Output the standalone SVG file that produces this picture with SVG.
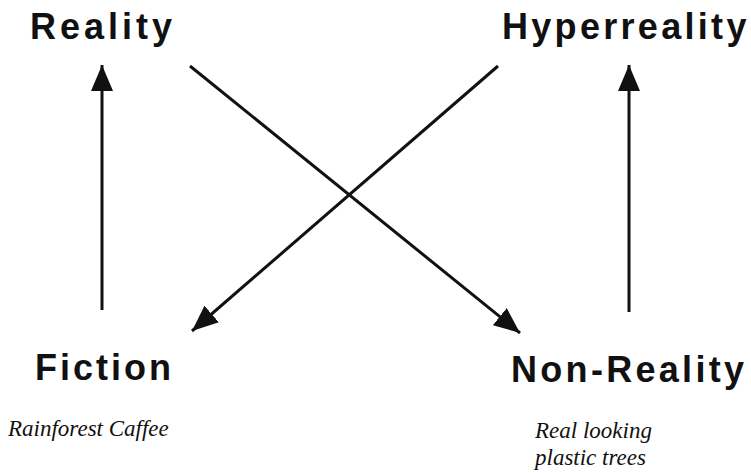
<svg xmlns="http://www.w3.org/2000/svg" width="751" height="473" viewBox="0 0 751 473">
<style>
.t{font-family:"Liberation Sans",Arial,sans-serif;font-weight:bold;font-size:36px;fill:#111;letter-spacing:4px}
.n{letter-spacing:3.3px}
.s{font-family:"Liberation Serif","Times New Roman",serif;font-style:italic;font-size:23px;fill:#111}
.c{stroke:#111;stroke-width:3;fill:none}
</style>
<defs>
<marker id="ah" markerUnits="userSpaceOnUse" markerWidth="30" markerHeight="24" refX="26" refY="11" orient="auto">
<path d="M0,0 L26,11 L0,22 Z" fill="#111"/>
</marker>
</defs>
<rect width="751" height="473" fill="#fff"/>
<g id="connectors">
<line class="c" x1="102" y1="310" x2="102" y2="65" marker-end="url(#ah)"/>
<line class="c" x1="629" y1="312" x2="629" y2="65" marker-end="url(#ah)"/>
<line class="c" x1="190" y1="66" x2="520" y2="333" marker-end="url(#ah)"/>
<line class="c" x1="498" y1="66" x2="192" y2="331" marker-end="url(#ah)"/>
</g>
<g id="reality"><text class="t" x="30" y="39">Reality</text></g>
<g id="hyperreality"><text class="t n" x="502" y="39">Hyperreality</text></g>
<g id="fiction"><text class="t" x="35" y="380" style="letter-spacing:3px">Fiction</text>
<text class="s" x="8" y="436">Rainforest Caffee</text></g>
<g id="non-reality"><text class="t n" x="511" y="382">Non-Reality</text>
<text class="s" x="535" y="438">Real looking</text>
<text class="s" x="535" y="465">plastic trees</text></g>
</svg>
